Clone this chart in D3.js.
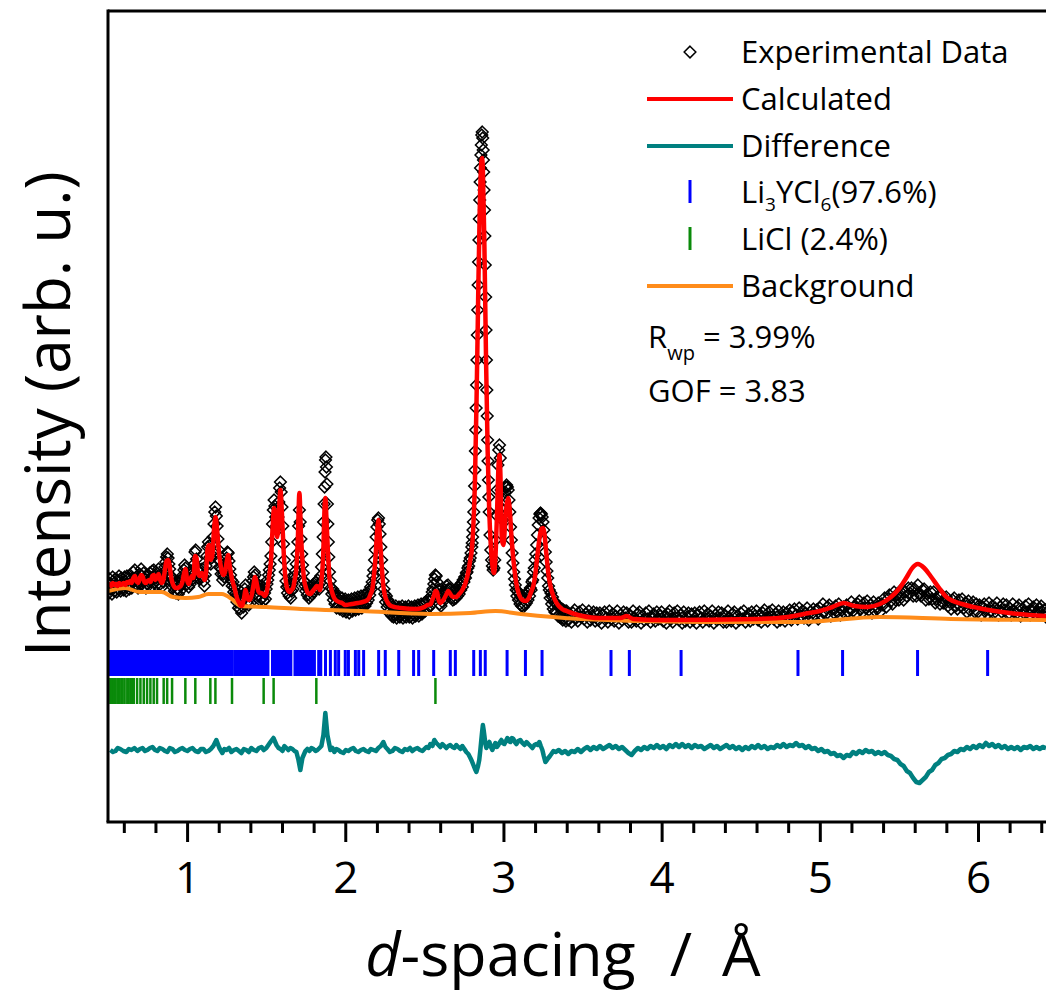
<!DOCTYPE html>
<html>
<head>
<meta charset="utf-8">
<script src="https://cdn.jsdelivr.net/npm/d3@7"></script>
<style>
body { margin: 0; background: #fff; }
svg { display: block; }
text { font-family: 'Open Sans', sans-serif; fill: #000; }
</style>
</head>
<body>
<svg width="1046" height="994"></svg>
<script>
// ---- data (d-spacing in Å, intensity in arb. units) ----
var majorTicks = [1, 2, 3, 4, 5, 6];

// observed points [d, I]
var observed = [
[0.500,240],[0.505,229],[0.510,243],[0.515,233],[0.520,238],[0.525,228],[0.530,245],[0.535,235],[0.540,231],[0.545,243],
[0.550,236],[0.555,230],[0.560,242],[0.565,233],[0.570,246],[0.575,236],[0.580,231],[0.585,244],[0.590,234],[0.595,240],
[0.600,232],[0.605,245],[0.610,236],[0.615,231],[0.620,246],[0.625,237],[0.630,243],[0.635,233],[0.640,247],[0.645,238],
[0.650,234],[0.655,244],[0.660,250],[0.665,241],[0.670,252],[0.675,244],[0.680,237],[0.685,246],[0.690,234],[0.695,242],
[0.700,248],[0.705,238],[0.710,253],[0.715,246],[0.720,241],[0.725,249],[0.730,236],[0.735,243],[0.740,234],[0.745,245],
[0.750,238],[0.755,247],[0.760,240],[0.765,249],[0.770,235],[0.775,244],[0.780,251],[0.785,243],[0.790,252],[0.795,240],
[0.800,246],[0.805,237],[0.810,249],[0.815,243],[0.820,253],[0.825,244],[0.830,238],[0.835,246],[0.840,235],[0.845,244],
[0.850,240],[0.855,250],[0.860,255],[0.865,260],[0.870,265],[0.875,268],[0.880,264],[0.885,258],[0.890,253],[0.895,246],
[0.900,240],[0.905,245],[0.910,235],[0.915,241],[0.920,231],[0.925,238],[0.930,229],[0.935,240],[0.940,233],[0.945,228],
[0.950,239],[0.955,231],[0.960,237],[0.965,243],[0.970,238],[0.975,247],[0.980,252],[0.985,257],[0.990,254],[0.995,246],
[1.000,238],[1.005,244],[1.010,235],[1.015,243],[1.020,238],[1.025,248],[1.030,251],[1.035,243],[1.040,247],[1.045,258],
[1.050,270],[1.055,272],[1.060,263],[1.065,252],[1.070,244],[1.075,250],[1.080,243],[1.085,252],[1.090,245],[1.095,253],
[1.100,246],[1.105,241],[1.110,236],[1.115,247],[1.120,256],[1.125,266],[1.130,275],[1.135,280],[1.140,276],[1.145,265],
[1.150,258],[1.155,264],[1.160,270],[1.165,285],[1.170,298],[1.175,310],[1.180,315],[1.185,306],[1.190,296],[1.195,283],
[1.200,272],[1.205,262],[1.210,254],[1.215,248],[1.220,253],[1.225,242],[1.230,248],[1.235,245],[1.240,254],[1.245,259],
[1.250,264],[1.255,270],[1.260,269],[1.265,261],[1.270,253],[1.275,247],[1.280,242],[1.285,236],[1.290,240],[1.295,230],
[1.300,235],[1.305,225],[1.310,229],[1.315,220],[1.320,226],[1.325,214],[1.330,224],[1.335,213],[1.340,220],[1.345,209],
[1.350,222],[1.355,215],[1.360,228],[1.365,233],[1.370,237],[1.375,229],[1.380,220],[1.385,228],[1.390,217],[1.395,226],
[1.400,219],[1.405,230],[1.410,234],[1.415,241],[1.420,245],[1.425,250],[1.430,247],[1.435,240],[1.440,234],[1.445,238],
[1.450,226],[1.455,233],[1.460,222],[1.465,231],[1.470,236],[1.475,224],[1.480,232],[1.485,221],[1.490,229],[1.495,223],
[1.500,233],[1.505,238],[1.510,242],[1.515,247],[1.520,252],[1.525,258],[1.530,266],[1.535,280],[1.540,298],[1.545,312],
[1.550,322],[1.555,316],[1.560,305],[1.565,296],[1.570,292],[1.575,305],[1.580,320],[1.585,334],[1.590,340],[1.595,330],
[1.600,315],[1.605,296],[1.610,278],[1.615,262],[1.620,250],[1.625,241],[1.630,235],[1.635,229],[1.640,236],[1.645,226],
[1.650,233],[1.655,224],[1.660,231],[1.665,238],[1.670,233],[1.675,242],[1.680,246],[1.685,251],[1.690,258],[1.695,268],
[1.700,280],[1.705,296],[1.710,312],[1.715,300],[1.720,283],[1.725,268],[1.730,257],[1.735,249],[1.740,241],[1.745,236],
[1.750,231],[1.755,238],[1.760,227],[1.765,234],[1.770,224],[1.775,232],[1.780,226],[1.785,235],[1.790,228],[1.795,237],
[1.800,230],[1.805,238],[1.810,233],[1.815,240],[1.820,235],[1.825,242],[1.830,237],[1.835,233],[1.840,239],[1.845,246],
[1.850,255],[1.855,268],[1.860,285],[1.863,300],[1.866,318],[1.869,335],[1.872,350],[1.875,362],[1.878,365],[1.881,355],
[1.884,338],[1.887,318],[1.890,298],[1.893,280],[1.896,265],[1.900,250],[1.905,241],[1.910,234],[1.915,228],[1.920,233],
[1.925,222],[1.930,229],[1.935,218],[1.940,226],[1.945,214],[1.950,224],[1.955,217],[1.960,226],[1.965,213],[1.970,221],
[1.975,215],[1.980,224],[1.985,211],[1.990,220],[1.995,214],[2.000,223],[2.005,210],[2.010,219],[2.015,213],[2.020,222],
[2.025,209],[2.030,218],[2.035,212],[2.040,223],[2.045,211],[2.050,219],[2.055,214],[2.060,224],[2.065,212],[2.070,220],
[2.075,215],[2.080,225],[2.085,213],[2.090,221],[2.095,216],[2.100,226],[2.105,214],[2.110,222],[2.115,217],[2.120,227],
[2.125,216],[2.130,224],[2.135,219],[2.140,229],[2.145,222],[2.150,230],[2.155,227],[2.160,235],[2.165,233],[2.170,240],
[2.175,246],[2.180,252],[2.185,262],[2.190,272],[2.195,285],[2.200,295],[2.205,302],[2.210,304],[2.215,298],[2.220,288],
[2.225,275],[2.230,262],[2.235,250],[2.240,241],[2.245,233],[2.250,228],[2.255,220],[2.260,226],[2.265,215],[2.270,222],
[2.275,210],[2.280,219],[2.285,208],[2.290,217],[2.295,206],[2.300,215],[2.305,205],[2.310,214],[2.315,207],[2.320,216],
[2.325,204],[2.330,213],[2.335,206],[2.340,215],[2.345,205],[2.350,214],[2.355,207],[2.360,216],[2.365,204],[2.370,212],
[2.375,206],[2.380,215],[2.385,205],[2.390,213],[2.395,207],[2.400,216],[2.405,205],[2.410,214],[2.415,206],[2.420,215],
[2.425,204],[2.430,213],[2.435,207],[2.440,216],[2.445,206],[2.450,214],[2.455,208],[2.460,217],[2.465,206],[2.470,215],
[2.475,209],[2.480,218],[2.485,208],[2.490,216],[2.495,210],[2.500,219],[2.505,211],[2.510,220],[2.515,213],[2.520,222],
[2.525,214],[2.530,221],[2.535,216],[2.540,225],[2.545,222],[2.550,230],[2.555,233],[2.560,238],[2.565,243],[2.570,247],
[2.575,246],[2.580,240],[2.585,232],[2.590,226],[2.595,218],[2.600,224],[2.605,216],[2.610,226],[2.615,220],[2.620,229],
[2.625,224],[2.630,232],[2.635,229],[2.640,236],[2.645,232],[2.650,237],[2.655,233],[2.660,227],[2.665,233],[2.670,224],
[2.675,230],[2.680,222],[2.685,231],[2.690,223],[2.695,232],[2.700,224],[2.705,233],[2.710,226],[2.715,235],[2.720,228],
[2.725,237],[2.730,232],[2.735,239],[2.740,235],[2.745,242],[2.750,240],[2.755,245],[2.760,244],[2.765,249],[2.770,250],
[2.775,254],[2.780,256],[2.785,261],[2.790,264],[2.795,269],[2.800,275],[2.8025,279],[2.805,285],[2.8075,292],[2.810,300],
[2.8125,310],[2.815,322],[2.8175,336],[2.820,352],[2.8225,371],[2.825,392],[2.8275,414],[2.830,437],[2.8325,462],[2.835,487],
[2.8375,512],[2.840,537],[2.8425,560],[2.845,582],[2.8475,603],[2.850,622],[2.8525,640],[2.855,654],[2.8575,667],[2.860,677],
[2.863,687],[2.866,690],[2.869,684],[2.872,672],[2.8735,662],[2.875,650],[2.8775,632],[2.880,612],[2.8825,586],[2.885,557],
[2.8875,525],[2.890,492],[2.8925,462],[2.895,432],[2.8975,406],[2.900,382],[2.9025,361],[2.905,342],[2.9075,325],[2.910,310],
[2.915,287],[2.920,272],[2.925,262],[2.930,256],[2.935,252],[2.940,254],[2.945,262],[2.950,282],[2.955,307],[2.960,332],
[2.965,357],[2.970,372],[2.975,377],[2.980,364],[2.985,332],[2.990,307],[2.995,302],[3.000,312],[3.005,322],[3.010,330],
[3.015,335],[3.020,337],[3.025,335],[3.030,332],[3.035,322],[3.040,310],[3.045,295],[3.050,282],[3.055,269],[3.060,259],
[3.065,250],[3.070,243],[3.075,237],[3.080,232],[3.085,226],[3.090,231],[3.095,222],[3.100,228],[3.105,218],[3.110,225],
[3.115,216],[3.120,226],[3.125,215],[3.130,224],[3.135,217],[3.140,227],[3.145,219],[3.150,229],[3.155,222],[3.160,231],
[3.165,226],[3.170,234],[3.175,232],[3.180,240],[3.185,242],[3.190,250],[3.195,254],[3.200,262],[3.205,268],[3.210,277],
[3.215,287],[3.220,297],[3.225,304],[3.230,308],[3.235,309],[3.240,308],[3.245,305],[3.250,300],[3.255,292],[3.260,282],
[3.265,270],[3.270,260],[3.275,251],[3.280,244],[3.285,236],[3.290,232],[3.295,224],[3.300,229],[3.305,218],[3.310,225],
[3.315,213],[3.320,221],[3.325,210],[3.330,219],[3.335,209],[3.340,217],[3.345,206],[3.350,215],[3.355,205],[3.360,214],
[3.365,204],[3.370,213],[3.375,202],[3.380,212],[3.385,203],[3.390,211],[3.395,201],
[3.40,211],[3.41,202],[3.42,207],[3.43,200],[3.44,209],[3.45,212],[3.46,204],[3.47,201],[3.48,210],[3.49,205],
[3.50,212],[3.51,203],[3.52,208],[3.53,200],[3.54,211],[3.55,202],[3.56,206],[3.57,210],[3.58,201],[3.59,209],
[3.60,202],[3.61,209],[3.62,199],[3.63,207],[3.64,210],[3.65,204],[3.66,200],[3.67,211],[3.68,203],[3.69,208],
[3.70,201],[3.71,206],[3.72,211],[3.73,199],[3.74,207],[3.75,202],[3.76,210],[3.77,204],[3.78,209],[3.79,200],
[3.80,207],[3.81,200],[3.82,211],[3.83,204],[3.84,201],[3.85,208],[3.86,210],[3.87,199],[3.88,206],[3.89,202],
[3.90,209],[3.91,203],[3.92,211],[3.93,200],[3.94,205],[3.95,208],[3.96,201],[3.97,210],[3.98,203],[3.99,206],
[4.00,210],[4.01,201],[4.02,206],[4.03,199],[4.04,208],[4.05,211],[4.06,203],[4.07,200],[4.08,209],[4.09,204],
[4.10,211],[4.11,202],[4.12,207],[4.13,199],[4.14,210],[4.15,201],[4.16,205],[4.17,209],[4.18,200],[4.19,208],
[4.20,202],[4.21,209],[4.22,199],[4.23,207],[4.24,210],[4.25,204],[4.26,200],[4.27,211],[4.28,203],[4.29,208],
[4.30,201],[4.31,206],[4.32,211],[4.33,199],[4.34,207],[4.35,202],[4.36,210],[4.37,204],[4.38,209],[4.39,200],
[4.40,207],[4.41,200],[4.42,211],[4.43,204],[4.44,201],[4.45,208],[4.46,210],[4.47,199],[4.48,206],[4.49,202],
[4.50,209],[4.51,203],[4.52,211],[4.53,200],[4.54,205],[4.55,208],[4.56,201],[4.57,210],[4.58,203],[4.59,206],
[4.60,211],[4.61,202],[4.62,207],[4.63,200],[4.64,209],[4.65,212],[4.66,204],[4.67,201],[4.68,210],[4.69,205],
[4.70,212],[4.71,203],[4.72,208],[4.73,200],[4.74,211],[4.75,202],[4.76,206],[4.77,210],[4.78,201],[4.79,209],
[4.80,205],[4.81,212],[4.82,202],[4.83,210],[4.84,213],[4.85,207],[4.86,203],[4.87,214],[4.88,206],[4.89,211],
[4.90,204],[4.91,209],[4.92,214],[4.93,202],[4.94,210],[4.95,205],[4.96,213],[4.97,207],[4.98,212],[4.99,203],
[5.00,214],[5.01,207],[5.02,218],[5.03,211],[5.04,208],[5.05,215],[5.06,217],[5.07,206],[5.08,213],[5.09,209],
[5.10,216],[5.11,210],[5.12,218],[5.13,207],[5.14,212],[5.15,215],[5.16,208],[5.17,217],[5.18,210],[5.19,213],
[5.20,220],[5.21,211],[5.22,216],[5.23,209],[5.24,218],[5.25,221],[5.26,213],[5.27,210],[5.28,219],[5.29,214],
[5.30,221],[5.31,212],[5.32,217],[5.33,209],[5.34,220],[5.35,211],[5.36,215],[5.37,219],[5.38,210],[5.39,218],
[5.40,217],[5.41,224],[5.42,215],[5.43,223],[5.44,227],[5.45,221],[5.46,218],[5.47,230],[5.48,222],[5.49,228],
[5.50,222],[5.51,227],[5.52,233],[5.53,222],[5.54,230],[5.55,226],[5.56,234],[5.57,229],[5.58,234],[5.59,226],
[5.60,233],[5.61,226],[5.62,237],[5.63,229],[5.64,226],[5.65,232],[5.66,233],[5.67,222],[5.68,228],[5.69,223],
[5.70,230],[5.71,223],[5.72,230],[5.73,219],[5.74,223],[5.75,226],[5.76,218],[5.77,227],[5.78,219],[5.79,222],
[5.80,225],[5.81,216],[5.82,220],[5.83,213],[5.84,222],[5.85,224],[5.86,216],[5.87,213],[5.88,222],[5.89,216],
[5.90,223],[5.91,214],[5.92,219],[5.93,210],[5.94,221],[5.95,212],[5.96,216],[5.97,220],[5.98,210],[5.99,218],
[6.00,210],[6.01,217],[6.02,207],[6.03,215],[6.04,218],[6.05,212],[6.06,208],[6.07,219],[6.08,211],[6.09,216],
[6.10,209],[6.11,214],[6.12,219],[6.13,207],[6.14,215],[6.15,210],[6.16,218],[6.17,212],[6.18,217],[6.19,208],
[6.20,214],[6.21,207],[6.22,218],[6.23,211],[6.24,208],[6.25,215],[6.26,217],[6.27,206],[6.28,213],[6.29,209],
[6.30,216],[6.31,210],[6.32,218],[6.33,207],[6.34,212],[6.35,215],[6.36,208],[6.37,217],[6.38,210],[6.39,213],
[6.40,216],[6.41,207],[6.42,212],[6.43,205],[6.44,214]
];

// calculated profile [d, I]
var calculated = [
[0.50,236],[0.51,238],[0.52,236],[0.53,239],[0.54,237],[0.55,238],[0.56,236],[0.57,239],[0.58,237],[0.59,238],
[0.60,239],[0.61,237],[0.62,240],[0.63,239],[0.64,241],[0.65,239],[0.66,244],[0.67,246],[0.68,241],[0.69,239],
[0.70,243],[0.71,247],[0.72,245],[0.73,240],[0.74,239],[0.75,241],[0.76,242],[0.77,240],[0.78,246],[0.79,247],
[0.80,242],[0.81,245],[0.82,248],[0.83,242],[0.84,239],[0.85,242],[0.86,252],[0.87,261],[0.88,262],[0.89,256],
[0.90,244],[0.91,238],[0.92,235],[0.93,234],[0.94,234],[0.95,235],[0.96,236],[0.97,240],[0.98,248],[0.99,253],
[1.00,242],[1.01,238],[1.02,242],[1.03,246],[1.04,244],[1.05,266],[1.06,264],[1.07,248],[1.08,246],[1.09,249],
[1.10,248],[1.11,242],[1.12,250],[1.13,274],[1.14,277],[1.15,262],[1.16,267],[1.17,292],[1.18,305],[1.19,292],
[1.20,272],[1.21,259],[1.22,250],[1.23,247],[1.24,250],[1.25,260],[1.26,267],[1.27,256],[1.28,246],[1.29,239],
[1.30,234],[1.31,227],[1.32,222],[1.33,219],[1.34,216],[1.35,217],[1.36,224],[1.37,232],[1.38,225],[1.39,222],
[1.40,223],[1.41,228],[1.42,237],[1.43,245],[1.44,239],[1.45,231],[1.46,229],[1.47,229],[1.48,228],[1.49,226],
[1.50,228],[1.51,236],[1.52,247],[1.53,260],[1.54,292],[1.55,314],[1.56,300],[1.57,285],[1.58,307],[1.59,332],
[1.60,307],[1.61,272],[1.62,247],[1.63,235],[1.64,231],[1.65,230],[1.66,232],[1.67,234],[1.68,242],[1.69,252],
[1.70,282],[1.71,329],[1.72,287],[1.73,260],[1.74,242],[1.75,235],[1.76,230],[1.77,228],[1.78,228],[1.79,230],
[1.80,232],[1.81,234],[1.82,236],[1.83,235],[1.84,232],[1.85,242],[1.86,265],[1.87,317],[1.875,324],[1.88,307],
[1.89,272],[1.90,244],[1.91,234],[1.92,228],[1.93,224],[1.94,222],[1.96,220],[1.98,219],[2.00,217],[2.04,218],
[2.08,219],[2.11,220],[2.13,221],[2.14,222],[2.15,224],[2.16,228],[2.17,232],[2.18,244],[2.19,262],[2.20,287],
[2.21,302],[2.22,282],[2.23,257],[2.24,237],[2.25,227],[2.26,222],[2.27,219],[2.29,216],[2.35,214],[2.45,213],
[2.50,215],[2.52,217],[2.54,218],[2.55,222],[2.56,226],[2.57,231],[2.58,230],[2.59,222],[2.60,219],[2.62,222],
[2.64,228],[2.65,231],[2.66,229],[2.68,225],[2.70,225],[2.72,228],[2.74,232],[2.76,239],[2.78,252],[2.79,262],
[2.80,272],[2.81,297],[2.82,342],[2.83,422],[2.84,522],[2.85,612],[2.86,660],[2.865,664],[2.87,652],[2.88,572],
[2.89,462],[2.90,372],[2.91,312],[2.92,277],[2.93,257],[2.94,249],[2.95,267],[2.96,312],[2.97,360],[2.975,367],
[2.98,352],[2.99,282],[3.00,277],[3.01,297],[3.02,317],[3.03,324],[3.04,312],[3.05,287],[3.06,267],[3.07,252],
[3.08,240],[3.09,232],[3.10,227],[3.12,222],[3.14,221],[3.16,224],[3.17,228],[3.18,232],[3.19,237],[3.20,246],
[3.21,260],[3.22,274],[3.23,286],[3.24,293],[3.25,294],[3.26,287],[3.27,270],[3.28,254],[3.29,242],[3.30,234],
[3.32,224],[3.34,218],[3.37,213],[3.40,211],[3.45,208],[3.50,206],[3.60,204],[3.74,204],[3.78,206],[3.82,203],
[4.00,202],[4.60,203],[4.80,205],[4.90,208],[5.00,211],[5.08,215],[5.15,219],[5.22,216],[5.30,215],[5.38,218],
[5.45,225],[5.50,233],[5.55,245],[5.58,253],[5.62,258],[5.66,254],[5.70,246],[5.75,235],[5.80,225],[5.90,218],
[6.00,214],[6.20,209],[6.43,206]
];

// refined background [d, I]
var background = [
[0.50,231],[0.61,234],[0.70,230],[0.84,230],[0.91,225],[0.99,224],[1.07,225],[1.135,228],[1.22,228],[1.29,222],
[1.34,216],[1.50,215],[1.72,213],[2.10,211],[2.54,208],[2.79,209],[2.95,211],[3.11,208],[3.49,203],[4.25,200],
[4.88,200],[5.38,205],[5.83,203],[6.43,202]
];

// difference (obs - calc) [d, I]
var difference = [
[0.515,0],[0.531,-2],[0.547,-1],[0.562,2],[0.578,1],[0.597,-1],[0.616,-2],[0.632,1],[0.648,0],[0.667,2],
[0.686,-1],[0.702,1],[0.718,2],[0.734,-1],[0.749,0],[0.765,2],[0.781,3],[0.797,0],[0.812,-1],[0.828,2],
[0.844,1],[0.860,-1],[0.875,-2],[0.891,2],[0.907,1],[0.923,-2],[0.939,-1],[0.955,1],[0.970,2],[0.986,0],
[1.002,-1],[1.018,1],[1.034,2],[1.052,-1],[1.071,-2],[1.087,1],[1.103,1],[1.119,-2],[1.135,-1],[1.150,1],
[1.166,4],[1.185,10],[1.204,2],[1.223,-3],[1.236,1],[1.249,0],[1.265,2],[1.280,-2],[1.296,0],[1.312,1],
[1.328,-1],[1.343,-3],[1.359,1],[1.375,0],[1.390,-2],[1.406,2],[1.422,0],[1.438,-1],[1.454,2],[1.470,3],
[1.485,0],[1.501,2],[1.527,8],[1.546,12],[1.565,5],[1.578,2],[1.590,1],[1.603,-1],[1.615,4],[1.628,2],
[1.640,0],[1.653,2],[1.666,1],[1.679,-1],[1.691,-2],[1.704,-10],[1.716,-20],[1.729,-8],[1.748,-1],[1.760,1],
[1.773,-1],[1.786,2],[1.799,1],[1.812,-1],[1.824,0],[1.837,2],[1.849,4],[1.862,15],[1.874,37],[1.887,15],
[1.906,0],[1.919,2],[1.931,-2],[1.944,1],[1.957,0],[1.972,-2],[1.988,-3],[2.004,0],[2.020,-1],[2.036,1],
[2.051,2],[2.067,-1],[2.083,-2],[2.099,0],[2.115,1],[2.131,-1],[2.147,-2],[2.162,1],[2.178,0],[2.194,-1],
[2.209,2],[2.225,4],[2.241,8],[2.254,3],[2.266,1],[2.282,-2],[2.298,-1],[2.314,2],[2.330,1],[2.346,-1],
[2.361,-2],[2.377,1],[2.393,0],[2.409,2],[2.424,-1],[2.440,1],[2.456,2],[2.472,0],[2.488,-1],[2.500,1],
[2.513,3],[2.526,2],[2.538,6],[2.551,4],[2.563,10],[2.576,7],[2.589,5],[2.601,3],[2.614,6],[2.627,4],
[2.639,2],[2.652,4],[2.664,5],[2.677,3],[2.690,2],[2.702,5],[2.715,3],[2.728,1],[2.740,4],[2.753,1],
[2.765,-2],[2.778,-4],[2.791,-8],[2.800,-11],[2.810,-15],[2.820,-19],[2.829,-22],[2.838,-17],[2.847,-10],[2.854,0],
[2.860,10],[2.865,18],[2.870,25],[2.875,20],[2.879,15],[2.886,6],[2.892,2],[2.902,6],[2.911,8],[2.921,3],
[2.930,0],[2.940,4],[2.949,7],[2.958,3],[2.968,5],[2.978,8],[2.987,10],[2.996,7],[3.006,6],[3.016,9],
[3.025,12],[3.034,9],[3.044,8],[3.053,12],[3.063,11],[3.072,8],[3.082,6],[3.094,9],[3.107,10],[3.120,7],
[3.133,5],[3.146,8],[3.158,6],[3.171,4],[3.183,2],[3.196,5],[3.208,6],[3.218,5],[3.227,8],[3.236,4],
[3.246,0],[3.255,-6],[3.265,-12],[3.275,-10],[3.284,-8],[3.294,-6],[3.303,-4],[3.316,-1],[3.33,-2],[3.35,0],
[3.37,-3],[3.39,-1],[3.41,-4],[3.43,-1],[3.45,-2],[3.47,1],[3.49,-2],[3.51,1],[3.53,3],[3.55,0],
[3.57,3],[3.59,1],[3.61,4],[3.63,1],[3.65,3],[3.67,5],[3.69,2],[3.71,4],[3.73,1],[3.75,3],
[3.77,0],[3.79,-3],[3.81,-5],[3.83,-1],[3.85,2],[3.87,0],[3.89,3],[3.91,1],[3.93,4],[3.95,2],
[3.97,5],[3.99,2],[4.01,4],[4.03,1],[4.05,5],[4.07,3],[4.09,6],[4.11,3],[4.13,6],[4.15,3],
[4.17,5],[4.19,2],[4.21,5],[4.23,3],[4.25,4],[4.27,1],[4.29,3],[4.31,5],[4.33,2],[4.35,4],
[4.37,1],[4.39,3],[4.41,5],[4.43,2],[4.45,4],[4.47,1],[4.49,3],[4.51,0],[4.53,3],[4.55,1],
[4.57,4],[4.59,2],[4.61,5],[4.63,2],[4.65,4],[4.67,1],[4.69,3],[4.71,2],[4.73,5],[4.75,3],
[4.77,6],[4.79,3],[4.81,5],[4.83,4],[4.85,7],[4.87,4],[4.89,5],[4.91,2],[4.93,4],[4.95,1],
[4.97,2],[4.99,-1],[5.01,1],[5.03,-2],[5.05,-1],[5.07,-4],[5.09,-3],[5.11,-6],[5.13,-5],[5.15,-8],
[5.17,-5],[5.19,-6],[5.21,-2],[5.23,-4],[5.25,-1],[5.27,-3],[5.29,0],[5.31,-2],[5.33,-1],[5.35,-4],
[5.37,-2],[5.39,-4],[5.41,-2],[5.43,-5],[5.45,-6],[5.47,-9],[5.49,-10],[5.51,-14],[5.53,-16],[5.55,-21],
[5.57,-23],[5.59,-28],[5.61,-32],[5.63,-33],[5.65,-30],[5.67,-27],[5.69,-22],[5.71,-20],[5.73,-15],[5.75,-13],
[5.77,-9],[5.79,-8],[5.81,-5],[5.83,-4],[5.85,-1],[5.87,-2],[5.89,1],[5.91,0],[5.93,3],[5.95,1],
[5.97,4],[5.99,2],[6.01,5],[6.03,3],[6.05,7],[6.07,4],[6.09,6],[6.11,3],[6.13,5],[6.15,2],
[6.17,4],[6.19,1],[6.21,3],[6.23,1],[6.25,3],[6.27,0],[6.29,3],[6.31,2],[6.33,4],[6.35,1],
[6.37,3],[6.39,1],[6.41,3],[6.43,2]
];

// Bragg reflection positions (d, Å)
var li3ycl6Peaks = [
0.508,0.519,0.531,0.54,0.552,0.566,0.577,0.589,0.6,0.613,0.624,0.636,0.648,0.659,0.671,0.684,0.695,0.707,
0.719,0.731,0.744,0.756,0.768,0.781,0.793,0.806,0.818,0.83,0.843,0.855,0.868,0.88,0.893,0.905,0.917,0.93,
0.942,0.955,0.968,0.98,0.993,1.005,1.018,1.031,1.043,1.056,1.069,1.081,1.094,1.107,1.12,1.132,1.145,1.158,
1.171,1.184,1.197,1.21,1.222,1.235,1.248,1.261,1.274,1.286,1.303,1.316,1.329,1.342,1.355,1.368,1.381,1.394,
1.407,1.42,1.433,1.446,1.459,1.472,1.485,1.498,1.511,1.54,1.553,1.566,1.579,1.592,1.605,1.618,1.631,1.644,
1.656,1.682,1.693,1.708,1.72,1.733,1.746,1.758,1.771,1.784,1.797,1.805,1.832,1.845,1.875,1.906,1.937,1.958,
2.0,2.02,2.064,2.085,2.116,2.211,2.253,2.338,2.432,2.464,2.559,2.664,2.696,2.812,2.854,2.885,3.023,3.139,
3.244,3.680,3.796,4.123,4.862,5.144,5.618,6.061
];
var liclPeaks = [
0.515,0.524,0.538,0.547,0.560,0.563,0.574,0.588,0.592,0.605,0.622,0.627,0.641,0.652,0.663,0.684,0.705,0.726,
0.747,0.768,0.789,0.810,0.852,0.874,0.905,0.989,1.052,1.147,1.179,1.284,1.484,1.547,1.817,2.57
];

// ---- layout ----
var svg = d3.select('svg');
var plotLeft = 108, plotRight = 1046, plotTop = 11, plotBottom = 822;

var x = d3.scaleLinear().domain([0.5, 6.43]).range([plotLeft, plotRight]);
var y = d3.scaleLinear().domain([0, 811]).range([plotBottom, plotTop]);

// rows for reflection markers and difference curve (in intensity units)
var blueRow = [146, 172];
var greenRow = [118, 144];
var diffBase = 72;

svg.append('defs').append('clipPath').attr('id', 'plotClip')
    .append('rect')
    .attr('x', plotLeft).attr('y', plotTop)
    .attr('width', plotRight - plotLeft).attr('height', plotBottom - plotTop);

var plot = svg.append('g').attr('clip-path', 'url(#plotClip)');

// open diamond marker
var diamondType = {
    draw: function(ctx, size) {
        var r = Math.sqrt(size / 2);
        ctx.moveTo(0, -r);
        ctx.lineTo(r, 0);
        ctx.lineTo(0, r);
        ctx.lineTo(-r, 0);
        ctx.closePath();
    }
};
var diamond = d3.symbol().type(diamondType).size(68);

plot.append('g')
    .selectAll('path')
    .data(observed)
    .enter().append('path')
    .attr('d', diamond)
    .attr('transform', function(d) { return 'translate(' + x(d[0]) + ',' + y(d[1]) + ')'; })
    .attr('fill', 'none')
    .attr('stroke', '#000')
    .attr('stroke-width', 1.5);

var line = d3.line()
    .x(function(d) { return x(d[0]); })
    .y(function(d) { return y(d[1]); })
    .curve(d3.curveMonotoneX);

plot.append('path')
    .datum(background)
    .attr('d', line)
    .attr('fill', 'none')
    .attr('stroke', '#ff8c1a')
    .attr('stroke-width', 4);

plot.append('path')
    .datum(calculated)
    .attr('d', line)
    .attr('fill', 'none')
    .attr('stroke', '#ff0000')
    .attr('stroke-width', 4.5)
    .attr('stroke-linejoin', 'round');

var diffLine = d3.line()
    .x(function(d) { return x(d[0]); })
    .y(function(d) { return y(diffBase + d[1]); });

plot.append('path')
    .datum(difference)
    .attr('d', diffLine)
    .attr('fill', 'none')
    .attr('stroke', '#008080')
    .attr('stroke-width', 4.5)
    .attr('stroke-linejoin', 'round');

// Bragg tick marks
plot.append('g')
    .selectAll('line')
    .data(li3ycl6Peaks)
    .enter().append('line')
    .attr('x1', function(d) { return x(d); })
    .attr('x2', function(d) { return x(d); })
    .attr('y1', y(blueRow[0]))
    .attr('y2', y(blueRow[1]))
    .attr('stroke', '#0000ff')
    .attr('stroke-width', 3);

plot.append('g')
    .selectAll('line')
    .data(liclPeaks)
    .enter().append('line')
    .attr('x1', function(d) { return x(d); })
    .attr('x2', function(d) { return x(d); })
    .attr('y1', y(greenRow[0]))
    .attr('y2', y(greenRow[1]))
    .attr('stroke', '#0a8a0a')
    .attr('stroke-width', 2.5);

// ---- axes ----
var minorTicks = d3.range(6, 65, 2).map(function(v) { return v / 10; })
    .filter(function(v) { return Math.abs(v - Math.round(v)) > 1e-6; });

var minorAxis = svg.append('g')
    .attr('transform', 'translate(0,' + plotBottom + ')')
    .call(d3.axisBottom(x).tickValues(minorTicks).tickSize(11).tickSizeOuter(0).tickFormat(''));
minorAxis.select('.domain').remove();
minorAxis.selectAll('line').attr('stroke-width', 3);

var majorAxis = svg.append('g')
    .attr('transform', 'translate(0,' + plotBottom + ')')
    .call(d3.axisBottom(x).tickValues(majorTicks).tickSize(20).tickSizeOuter(0).tickPadding(20)
        .tickFormat(d3.format('d')));
majorAxis.select('.domain').attr('stroke-width', 3).attr('d', 'M' + (plotLeft - 1.5) + ',0H' + plotRight);
majorAxis.selectAll('line').attr('stroke-width', 3);
majorAxis.selectAll('text')
    .attr('font-family', "'Open Sans', sans-serif")
    .attr('font-size', 44);
majorAxis.attr('font-family', null).attr('font-size', null);

// left axis and top frame
svg.append('line')
    .attr('x1', plotLeft).attr('x2', plotLeft)
    .attr('y1', plotTop - 1.5).attr('y2', plotBottom)
    .attr('stroke', '#000').attr('stroke-width', 3);
svg.append('line')
    .attr('x1', plotLeft).attr('x2', plotRight)
    .attr('y1', plotTop).attr('y2', plotTop)
    .attr('stroke', '#000').attr('stroke-width', 3);

// axis titles
var xTitle = svg.append('text')
    .attr('x', 563).attr('y', 976)
    .attr('text-anchor', 'middle')
    .attr('font-size', 61);
xTitle.append('tspan').attr('font-style', 'italic').text('d');
xTitle.append('tspan').text('-spacing');
xTitle.append('tspan').attr('dx', 34).text('/');
xTitle.append('tspan').attr('dx', 30).text('Å');

svg.append('text')
    .attr('transform', 'translate(70,414) rotate(-90)')
    .attr('text-anchor', 'middle')
    .attr('font-size', 62)
    .text('Intensity (arb. u.)');

// ---- legend ----
var legend = svg.append('g');
var legendText = 741, legendSym = 690, legendFont = 31;
var rows = [63, 110, 157, 203, 250, 297];

legend.append('path')
    .attr('d', diamond)
    .attr('transform', 'translate(' + legendSym + ',' + (rows[0] - 11) + ')')
    .attr('fill', 'none').attr('stroke', '#000').attr('stroke-width', 1.5);

function legendLine(row, color) {
    legend.append('line')
        .attr('x1', 647).attr('x2', 733)
        .attr('y1', row - 11).attr('y2', row - 11)
        .attr('stroke', color).attr('stroke-width', 4);
}
legendLine(rows[1], '#ff0000');
legendLine(rows[2], '#008080');
legendLine(rows[5], '#ff8c1a');

function legendTick(row, color) {
    legend.append('line')
        .attr('x1', legendSym).attr('x2', legendSym)
        .attr('y1', row - 23).attr('y2', row)
        .attr('stroke', color).attr('stroke-width', 3);
}
legendTick(rows[3], '#0000ff');
legendTick(rows[4], '#0a8a0a');

function legendLabel(row) {
    return legend.append('text')
        .attr('x', legendText).attr('y', row)
        .attr('font-size', legendFont);
}
legendLabel(rows[0]).text('Experimental Data');
legendLabel(rows[1]).text('Calculated');
legendLabel(rows[2]).text('Difference');
var li = legendLabel(rows[3]);
li.append('tspan').text('Li');
li.append('tspan').attr('font-size', 19).attr('dy', 8).text('3');
li.append('tspan').attr('dy', -8).text('YCl');
li.append('tspan').attr('font-size', 19).attr('dy', 8).text('6');
li.append('tspan').attr('dy', -8).text('(97.6%)');
legendLabel(rows[4]).text('LiCl (2.4%)');
legendLabel(rows[5]).text('Background');

var rwp = legend.append('text').attr('x', 648).attr('y', 348).attr('font-size', legendFont);
rwp.append('tspan').text('R');
rwp.append('tspan').attr('font-size', 20).attr('dy', 12).text('wp');
rwp.append('tspan').attr('dy', -12).text(' = 3.99%');

legend.append('text').attr('x', 648).attr('y', 402).attr('font-size', legendFont)
    .text('GOF = 3.83');
</script>
</body>
</html>
